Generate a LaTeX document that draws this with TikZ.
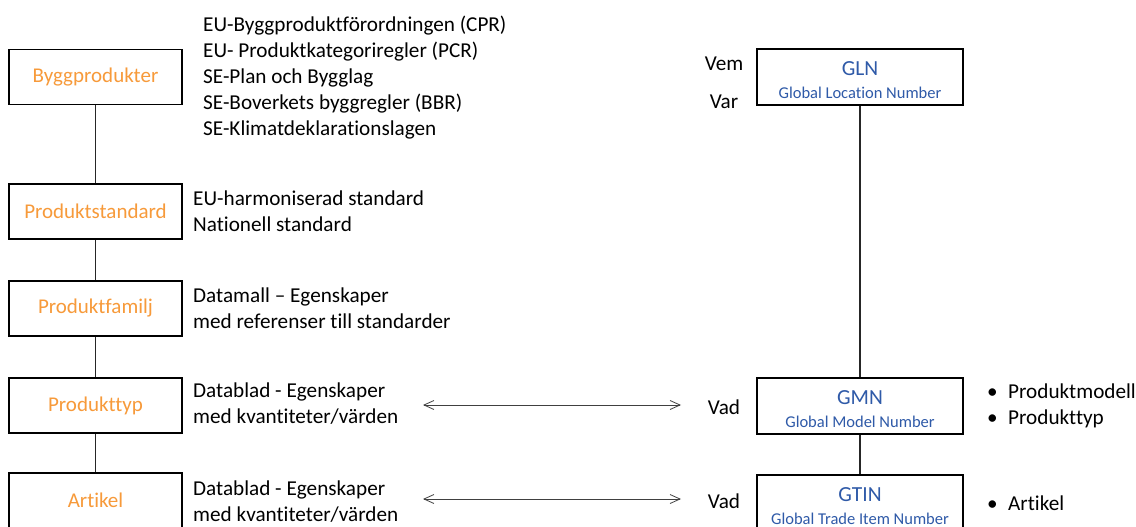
\documentclass[tikz,border=0pt]{standalone}
\usepackage{fontspec}
\setmainfont{Carlito}[Ligatures=NoCommon]
\usetikzlibrary{arrows.meta}
\definecolor{boxorange}{HTML}{F79A3A}
\definecolor{gsblue}{HTML}{2F5AA8}
\definecolor{arrowgrey}{HTML}{404040}
\tikzset{
  catbox/.style={draw=black, line width=1.8pt, fill=white, minimum width=173pt,
    minimum height=55pt, inner sep=0pt, text=boxorange,
    font=\fontsize{21}{26}\selectfont},
  idbox/.style={draw=black, line width=1.8pt, fill=white, minimum width=206pt,
    minimum height=56pt, inner sep=0pt, align=center, text=gsblue,
    font=\fontsize{16.5}{23}\selectfont},
  body/.style={anchor=west, inner sep=0pt, align=left,
    font=\fontsize{21.2}{26}\selectfont},
  word/.style={inner sep=0pt, font=\fontsize{21.2}{26}\selectfont},
  link/.style={line width=1.3pt, draw=black!85},
  both/.style={line width=1pt, draw=arrowgrey,
    {Straight Barb[length=10pt,width=9pt,line width=0.8pt]}-{Straight Barb[length=10pt,width=9pt,line width=0.8pt]}}
}
% identifier acronym on top, full name below; the strut lowers the pair a little
\newcommand{\idtext}[2]{{\fontsize{21.5}{23}\selectfont\rule{0pt}{21pt}#1}\\#2}
\begin{document}
\begin{tikzpicture}[x=1pt,y=-1pt]
\useasboundingbox (0,0) rectangle (1136,527);

% left column: classification levels
\node[catbox] (bygg) at (95.5,77) {Byggprodukter};
\node[catbox] (std) at (95.5,211.5) {Produktstandard};
\node[catbox] (fam) at (95.5,308.5) {Produktfamilj};
\node[catbox] (typ) at (95.5,405.5) {Produkttyp};
\node[catbox] (art) at (95.5,500.5) {Artikel};

\draw[link] (bygg) -- (std);
\draw[link] (std) -- (fam);
\draw[link] (fam) -- (typ);
\draw[link] (typ) -- (art);

% descriptions next to each level
\node[body] (regler) at (203,78) {EU-Byggproduktförordningen (CPR)\\EU- Produktkategoriregler (PCR)\\SE-Plan och Bygglag\\SE-Boverkets byggregler (BBR)\\SE-Klimatdeklarationslagen};
\node[body] (stdtxt) at (193,211) {EU-harmoniserad standard\\Nationell standard};
\node[body] (famtxt) at (193,308) {Datamall – Egenskaper\\med referenser till standarder};
\node[body] (typtxt) at (193,403.5) {Datablad - Egenskaper\\med kvantiteter/värden};
\node[body] (arttxt) at (193,502) {Datablad - Egenskaper\\med kvantiteter/värden};

% right column: GS1 identifiers
\node[idbox] (gln) at (860,77) {\idtext{GLN}{Global Location Number}};
\node[idbox] (gmn) at (860,406) {\idtext{GMN}{Global Model Number}};
\node[idbox] (gtin) at (860,503) {\rule{0pt}{12pt}\idtext{GTIN}{Global Trade Item Number}};

\draw[link] (gln) -- (gmn);
\draw[link] (gmn) -- (gtin);

\node[word] (vem) at (724,64) {Vem};
\node[word] (var) at (724,102) {Var};
\node[word] (vad1) at (724,407) {Vad};
\node[word] (vad2) at (724,501) {Vad};

% two-way mappings
\coordinate (l1) at (423,405);
\coordinate (r1) at (681,405);
\coordinate (l2) at (423,499);
\coordinate (r2) at (681,499);
\draw[both] (l1) -- (r1);
\draw[both] (l2) -- (r2);

% bullet lists
\node[body] (gmnlist) at (987,406) {\makebox[21pt][l]{•}Produktmodell\\\makebox[21pt][l]{•}Produkttyp};
\node[body] (gtinlist) at (987,503) {\makebox[21pt][l]{•}Artikel};
\end{tikzpicture}
\end{document}
